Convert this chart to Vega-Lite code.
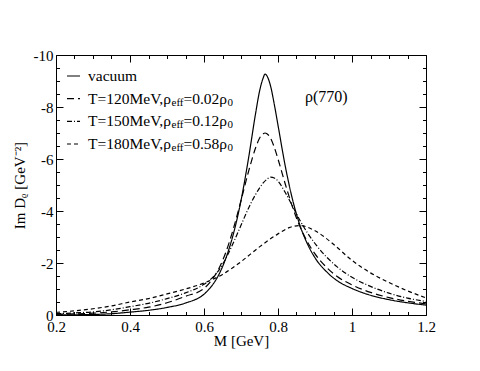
{
  "$schema": "https://vega.github.io/schema/vega-lite/v6.json",
  "width": 370,
  "height": 260,
  "autosize": "none",
  "padding": {"left": 56, "top": 55, "right": 54, "bottom": 56},
  "background": "white",
  "config": {
    "view": {"stroke": null},
    "axis": {
      "domainColor": "black", "tickColor": "black", "labelColor": "black", "titleColor": "black",
      "grid": false, "labelFont": "Times New Roman", "titleFont": "Times New Roman",
      "labelFontSize": 15, "titleFontSize": 15, "titleFontWeight": "normal",
      "domainWidth": 1, "tickWidth": 1, "labelOverlap": false, "labelFlush": false, "labelBound": false
    }
  },
  "datasets": {
    "curves": [
      {"M":0.2,"ImD":-0.01,"s":"vacuum"},{"M":0.25,"ImD":-0.01,"s":"vacuum"},{"M":0.3,"ImD":-0.02,"s":"vacuum"},{"M":0.35,"ImD":-0.05,"s":"vacuum"},{"M":0.4,"ImD":-0.11,"s":"vacuum"},{"M":0.45,"ImD":-0.18,"s":"vacuum"},{"M":0.5,"ImD":-0.29,"s":"vacuum"},{"M":0.55,"ImD":-0.46,"s":"vacuum"},{"M":0.6,"ImD":-0.8,"s":"vacuum"},{"M":0.62,"ImD":-1.1,"s":"vacuum"},{"M":0.64,"ImD":-1.55,"s":"vacuum"},{"M":0.66,"ImD":-2.22,"s":"vacuum"},{"M":0.68,"ImD":-3.15,"s":"vacuum"},{"M":0.7,"ImD":-4.4,"s":"vacuum"},{"M":0.72,"ImD":-6.0,"s":"vacuum"},{"M":0.74,"ImD":-7.8,"s":"vacuum"},{"M":0.75,"ImD":-8.6,"s":"vacuum"},{"M":0.76,"ImD":-9.12,"s":"vacuum"},{"M":0.765,"ImD":-9.27,"s":"vacuum"},{"M":0.77,"ImD":-9.2,"s":"vacuum"},{"M":0.78,"ImD":-8.8,"s":"vacuum"},{"M":0.79,"ImD":-8.1,"s":"vacuum"},{"M":0.8,"ImD":-7.3,"s":"vacuum"},{"M":0.82,"ImD":-5.7,"s":"vacuum"},{"M":0.84,"ImD":-4.4,"s":"vacuum"},{"M":0.86,"ImD":-3.42,"s":"vacuum"},{"M":0.88,"ImD":-2.72,"s":"vacuum"},{"M":0.9,"ImD":-2.2,"s":"vacuum"},{"M":0.93,"ImD":-1.68,"s":"vacuum"},{"M":0.96,"ImD":-1.32,"s":"vacuum"},{"M":1.0,"ImD":-1.02,"s":"vacuum"},{"M":1.05,"ImD":-0.76,"s":"vacuum"},{"M":1.1,"ImD":-0.59,"s":"vacuum"},{"M":1.15,"ImD":-0.47,"s":"vacuum"},{"M":1.2,"ImD":-0.38,"s":"vacuum"},
      {"M":0.2,"ImD":-0.03,"s":"T120"},{"M":0.25,"ImD":-0.04,"s":"T120"},{"M":0.3,"ImD":-0.07,"s":"T120"},{"M":0.35,"ImD":-0.12,"s":"T120"},{"M":0.4,"ImD":-0.2,"s":"T120"},{"M":0.45,"ImD":-0.3,"s":"T120"},{"M":0.5,"ImD":-0.47,"s":"T120"},{"M":0.55,"ImD":-0.72,"s":"T120"},{"M":0.6,"ImD":-1.02,"s":"T120"},{"M":0.62,"ImD":-1.33,"s":"T120"},{"M":0.64,"ImD":-1.78,"s":"T120"},{"M":0.66,"ImD":-2.45,"s":"T120"},{"M":0.68,"ImD":-3.35,"s":"T120"},{"M":0.7,"ImD":-4.4,"s":"T120"},{"M":0.72,"ImD":-5.5,"s":"T120"},{"M":0.74,"ImD":-6.45,"s":"T120"},{"M":0.75,"ImD":-6.8,"s":"T120"},{"M":0.76,"ImD":-6.97,"s":"T120"},{"M":0.765,"ImD":-7.0,"s":"T120"},{"M":0.77,"ImD":-6.97,"s":"T120"},{"M":0.78,"ImD":-6.8,"s":"T120"},{"M":0.79,"ImD":-6.45,"s":"T120"},{"M":0.8,"ImD":-6.0,"s":"T120"},{"M":0.82,"ImD":-5.02,"s":"T120"},{"M":0.84,"ImD":-4.12,"s":"T120"},{"M":0.86,"ImD":-3.38,"s":"T120"},{"M":0.88,"ImD":-2.8,"s":"T120"},{"M":0.9,"ImD":-2.35,"s":"T120"},{"M":0.93,"ImD":-1.85,"s":"T120"},{"M":0.96,"ImD":-1.48,"s":"T120"},{"M":1.0,"ImD":-1.16,"s":"T120"},{"M":1.05,"ImD":-0.87,"s":"T120"},{"M":1.1,"ImD":-0.67,"s":"T120"},{"M":1.15,"ImD":-0.53,"s":"T120"},{"M":1.2,"ImD":-0.43,"s":"T120"},
      {"M":0.2,"ImD":-0.05,"s":"T150"},{"M":0.25,"ImD":-0.08,"s":"T150"},{"M":0.3,"ImD":-0.12,"s":"T150"},{"M":0.35,"ImD":-0.2,"s":"T150"},{"M":0.4,"ImD":-0.32,"s":"T150"},{"M":0.45,"ImD":-0.45,"s":"T150"},{"M":0.5,"ImD":-0.63,"s":"T150"},{"M":0.55,"ImD":-0.85,"s":"T150"},{"M":0.6,"ImD":-1.18,"s":"T150"},{"M":0.62,"ImD":-1.4,"s":"T150"},{"M":0.64,"ImD":-1.72,"s":"T150"},{"M":0.66,"ImD":-2.2,"s":"T150"},{"M":0.68,"ImD":-2.8,"s":"T150"},{"M":0.7,"ImD":-3.45,"s":"T150"},{"M":0.72,"ImD":-4.1,"s":"T150"},{"M":0.74,"ImD":-4.65,"s":"T150"},{"M":0.76,"ImD":-5.08,"s":"T150"},{"M":0.77,"ImD":-5.22,"s":"T150"},{"M":0.78,"ImD":-5.3,"s":"T150"},{"M":0.79,"ImD":-5.27,"s":"T150"},{"M":0.8,"ImD":-5.15,"s":"T150"},{"M":0.82,"ImD":-4.7,"s":"T150"},{"M":0.84,"ImD":-4.17,"s":"T150"},{"M":0.86,"ImD":-3.62,"s":"T150"},{"M":0.88,"ImD":-3.15,"s":"T150"},{"M":0.9,"ImD":-2.75,"s":"T150"},{"M":0.93,"ImD":-2.25,"s":"T150"},{"M":0.96,"ImD":-1.85,"s":"T150"},{"M":1.0,"ImD":-1.45,"s":"T150"},{"M":1.05,"ImD":-1.1,"s":"T150"},{"M":1.1,"ImD":-0.84,"s":"T150"},{"M":1.15,"ImD":-0.65,"s":"T150"},{"M":1.2,"ImD":-0.52,"s":"T150"},
      {"M":0.2,"ImD":-0.1,"s":"T180"},{"M":0.25,"ImD":-0.16,"s":"T180"},{"M":0.3,"ImD":-0.24,"s":"T180"},{"M":0.35,"ImD":-0.35,"s":"T180"},{"M":0.4,"ImD":-0.5,"s":"T180"},{"M":0.45,"ImD":-0.63,"s":"T180"},{"M":0.5,"ImD":-0.81,"s":"T180"},{"M":0.55,"ImD":-1.0,"s":"T180"},{"M":0.6,"ImD":-1.23,"s":"T180"},{"M":0.65,"ImD":-1.56,"s":"T180"},{"M":0.7,"ImD":-2.05,"s":"T180"},{"M":0.75,"ImD":-2.62,"s":"T180"},{"M":0.8,"ImD":-3.12,"s":"T180"},{"M":0.83,"ImD":-3.36,"s":"T180"},{"M":0.86,"ImD":-3.44,"s":"T180"},{"M":0.9,"ImD":-3.24,"s":"T180"},{"M":0.95,"ImD":-2.72,"s":"T180"},{"M":1.0,"ImD":-2.1,"s":"T180"},{"M":1.05,"ImD":-1.62,"s":"T180"},{"M":1.1,"ImD":-1.25,"s":"T180"},{"M":1.15,"ImD":-0.93,"s":"T180"},{"M":1.2,"ImD":-0.66,"s":"T180"}
    ],
    "legend": [
      {"s":"vacuum","t1":"vacuum","t2":"","t3":"","t4":""},
      {"s":"T120","t1":"T=120MeV,ρ","t2":"eff","t3":"=0.02ρ","t4":"0"},
      {"s":"T150","t1":"T=150MeV,ρ","t2":"eff","t3":"=0.12ρ","t4":"0"},
      {"s":"T180","t1":"T=180MeV,ρ","t2":"eff","t3":"=0.58ρ","t4":"0"}
    ]
  },
  "resolve": {"scale": {"y": "independent"}, "axis": {"x": "independent", "y": "independent"}},
  "layer": [
    {
      "data": {"name": "curves"},
      "mark": {"type": "line", "interpolate": "monotone", "strokeWidth": 1.2, "color": "black"},
      "encoding": {
        "x": {"field": "M", "type": "quantitative",
          "scale": {"domain": [0.2, 1.2], "nice": false, "zero": false},
          "axis": {"orient": "bottom", "title": "M [GeV]",
            "values": [0.2,0.25,0.3,0.35,0.4,0.45,0.5,0.55,0.6,0.65,0.7,0.75,0.8,0.85,0.9,0.95,1,1.05,1.1,1.15,1.2],
            "tickSize": {"condition": {"test": "abs(datum.value*5-round(datum.value*5))<0.001", "value": -7}, "value": -3.5},
            "labelExpr": "abs(datum.value*5-round(datum.value*5))<0.001 ? format(datum.value, '') : ''",
            "labelPadding": 11, "titlePadding": -4}},
        "y": {"field": "ImD", "type": "quantitative",
          "scale": {"domain": [-10, 0], "reverse": true, "nice": false, "zero": false},
          "axis": {"orient": "left", "title": "Im Dᵨ [GeV⁻²]",
            "values": [-10,-9.5,-9,-8.5,-8,-7.5,-7,-6.5,-6,-5.5,-5,-4.5,-4,-3.5,-3,-2.5,-2,-1.5,-1,-0.5,0],
            "tickSize": {"condition": {"test": "datum.value % 2 == 0", "value": -7}, "value": -3.5},
            "labelExpr": "datum.value % 2 == 0 ? (datum.value == 0 ? '0' : '-' + format(-datum.value, 'd')) : ''",
            "labelPadding": 10, "titlePadding": 6}},
        "strokeDash": {"field": "s", "type": "nominal",
          "scale": {"domain": ["vacuum", "T120", "T150", "T180"], "range": [[1, 0], [7, 4], [5, 2, 1, 2], [4, 3]]},
          "legend": null}
      }
    },
    {
      "data": {"name": "curves"},
      "mark": {"type": "point", "opacity": 0},
      "encoding": {
        "x": {"field": "M", "type": "quantitative",
          "scale": {"domain": [0.2, 1.2], "nice": false, "zero": false},
          "axis": {"orient": "top", "title": null, "labels": false,
            "values": [0.2,0.25,0.3,0.35,0.4,0.45,0.5,0.55,0.6,0.65,0.7,0.75,0.8,0.85,0.9,0.95,1,1.05,1.1,1.15,1.2],
            "tickSize": {"condition": {"test": "abs(datum.value*5-round(datum.value*5))<0.001", "value": -7}, "value": -3.5}}},
        "y": {"field": "ImD", "type": "quantitative",
          "scale": {"domain": [-10, 0], "reverse": true, "nice": false, "zero": false},
          "axis": {"orient": "right", "title": null, "labels": false,
            "values": [-10,-9.5,-9,-8.5,-8,-7.5,-7,-6.5,-6,-5.5,-5,-4.5,-4,-3.5,-3,-2.5,-2,-1.5,-1,-0.5,0],
            "tickSize": {"condition": {"test": "datum.value % 2 == 0", "value": -7}, "value": -3.5}}}
      }
    },
    {
      "data": {"name": "legend"},
      "mark": {"type": "rule", "strokeWidth": 1.2, "color": "black"},
      "encoding": {
        "x": {"datum": 0.2297, "type": "quantitative", "axis": null},
        "x2": {"datum": 0.2649},
        "y": {"field": "s", "type": "nominal", "axis": null,
          "scale": {"type": "point", "domain": ["vacuum", "T120", "T150", "T180"], "range": [21, 89], "padding": 0}},
        "strokeDash": {"field": "s", "type": "nominal", "legend": null}
      }
    },
    {
      "data": {"name": "legend"},
      "mark": {"type": "text", "align": "left", "baseline": "middle", "fontSize": 15.5, "font": "Times New Roman", "color": "black"},
      "encoding": {
        "x": {"datum": 0.2865, "type": "quantitative", "axis": null},
        "y": {"field": "s", "type": "nominal", "axis": null,
          "scale": {"type": "point", "domain": ["vacuum", "T120", "T150", "T180"], "range": [21, 89], "padding": 0}},
        "text": {"field": "t1"}
      }
    },
    {
      "data": {"name": "legend"},
      "mark": {"type": "text", "align": "left", "baseline": "middle", "fontSize": 11, "font": "Times New Roman", "color": "black", "dx": 83.5, "dy": 4},
      "encoding": {
        "x": {"datum": 0.2865, "type": "quantitative", "axis": null},
        "y": {"field": "s", "type": "nominal", "axis": null,
          "scale": {"type": "point", "domain": ["vacuum", "T120", "T150", "T180"], "range": [21, 89], "padding": 0}},
        "text": {"field": "t2"}
      }
    },
    {
      "data": {"name": "legend"},
      "mark": {"type": "text", "align": "left", "baseline": "middle", "fontSize": 15.5, "font": "Times New Roman", "color": "black", "dx": 95.5},
      "encoding": {
        "x": {"datum": 0.2865, "type": "quantitative", "axis": null},
        "y": {"field": "s", "type": "nominal", "axis": null,
          "scale": {"type": "point", "domain": ["vacuum", "T120", "T150", "T180"], "range": [21, 89], "padding": 0}},
        "text": {"field": "t3"}
      }
    },
    {
      "data": {"name": "legend"},
      "mark": {"type": "text", "align": "left", "baseline": "middle", "fontSize": 11, "font": "Times New Roman", "color": "black", "dx": 139.5, "dy": 4},
      "encoding": {
        "x": {"datum": 0.2865, "type": "quantitative", "axis": null},
        "y": {"field": "s", "type": "nominal", "axis": null,
          "scale": {"type": "point", "domain": ["vacuum", "T120", "T150", "T180"], "range": [21, 89], "padding": 0}},
        "text": {"field": "t4"}
      }
    },
    {
      "data": {"values": [{"label": "ρ(770)"}]},
      "mark": {"type": "text", "align": "left", "baseline": "middle", "fontSize": 16, "font": "Times New Roman", "color": "black"},
      "encoding": {
        "x": {"datum": 0.873, "type": "quantitative", "axis": null},
        "y": {"datum": -8.38, "type": "quantitative", "axis": null,
          "scale": {"domain": [-10, 0], "reverse": true, "nice": false, "zero": false}},
        "text": {"field": "label"}
      }
    }
  ]
}
